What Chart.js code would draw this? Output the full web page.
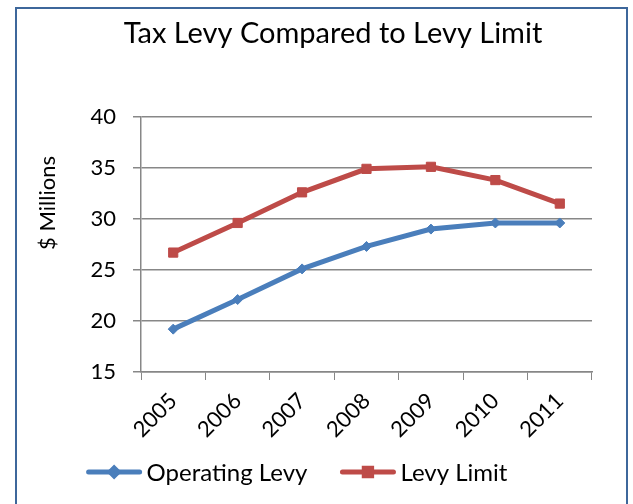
<!DOCTYPE html>
<html>
<head>
<meta charset="utf-8">
<title>Tax Levy Compared to Levy Limit</title>
<script src="https://cdn.jsdelivr.net/npm/chart.js@4"></script>
<style>
  html, body { margin: 0; padding: 0; background: #fff; }
  body { width: 633px; height: 504px; overflow: hidden; position: relative; }
  .frame { position: absolute; left: 15px; top: 7px; width: 609px; height: 520px; border: 2px solid #3d679b; }
  .wrap { position: absolute; left: 0; top: 0; width: 633px; height: 504px; }
</style>
</head>
<body>
<div class="frame"></div>
<div class="wrap"><canvas id="levyChart"></canvas></div>
<script>
// Data
const years = ['2005', '2006', '2007', '2008', '2009', '2010', '2011'];
const operatingLevy = [19.2, 22.1, 25.1, 27.3, 29.0, 29.6, 29.6];
const levyLimit = [26.7, 29.6, 32.6, 34.9, 35.1, 33.8, 31.5];
const yMin = 15;
const yMax = 40;
const yStep = 5;

const chartTitle = 'Tax Levy Compared to Levy Limit';
const yTitle = '$ Millions';
const fontName = 'Lato';
const gridColor = '#878787';

// Plugin die de y-as titel en de legenda tekent
const extraText = {
    id: 'extraText',
    afterDraw(chart) {
        const c = chart.ctx;

        // y-as titel
        c.save();
        c.font = '22px ' + fontName;
        c.fillStyle = '#000';
        c.textAlign = 'center';
        c.textBaseline = 'middle';
        c.translate(48, 203);
        c.rotate(-Math.PI / 2);
        c.fillText(yTitle, 0, 0);
        c.restore();

        // legenda
        c.save();
        c.font = '24px ' + fontName;
        const sample = 55;
        const gap = 5;
        const spacing = 33;
        const sets = chart.data.datasets;
        let total = 0;
        sets.forEach(ds => { total += sample + gap + c.measureText(ds.label).width; });
        total += spacing * (sets.length - 1);
        let x = 297 - total / 2;
        const y = 472;
        sets.forEach(ds => {
            c.strokeStyle = ds.borderColor;
            c.fillStyle = ds.borderColor;
            c.lineWidth = 5;
            c.lineCap = 'round';
            c.beginPath();
            c.moveTo(x + 2, y);
            c.lineTo(x + sample - 2, y);
            c.stroke();
            Chart.helpers.drawPoint(c, {
                pointStyle: ds.pointStyle,
                radius: ds.pointRadius * 0.8,
                rotation: 0,
                borderWidth: 1
            }, x + sample / 2, y);
            c.fillStyle = '#000';
            c.textAlign = 'left';
            c.textBaseline = 'middle';
            c.fillText(ds.label, x + sample + gap, y + 1);
            x += sample + gap + c.measureText(ds.label).width + spacing;
        });
        c.restore();
    }
};

const ctx = document.getElementById('levyChart');

new Chart(ctx, {
    type: 'line',
    data: {
        labels: years,
        datasets: [{
            label: 'Operating Levy',
            data: operatingLevy,
            borderColor: '#4a7ebb',
            backgroundColor: '#4a7ebb',
            borderWidth: 5,
            pointStyle: 'rectRot',
            pointRadius: 5,
            pointBorderWidth: 1,
            tension: 0
        },
        {
            label: 'Levy Limit',
            data: levyLimit,
            borderColor: '#be4b48',
            backgroundColor: '#be4b48',
            borderWidth: 5,
            pointStyle: 'rect',
            pointRadius: 6.5,
            pointBorderWidth: 1,
            tension: 0
        }]
    },
    options: {
        responsive: true,
        maintainAspectRatio: false,
        animation: false,
        layout: {
            padding: { left: 74, right: 41, top: 0, bottom: 62 }
        },
        plugins: {
            legend: { display: false },
            tooltip: { enabled: false },
            title: {
                display: true,
                text: chartTitle,
                color: '#000',
                font: { family: fontName, size: 29, weight: 'normal', lineHeight: 1.2 },
                padding: { top: 16, bottom: 66 }
            }
        },
        scales: {
            x: {
                offset: true,
                grid: {
                    offset: true,
                    drawOnChartArea: false,
                    drawTicks: true,
                    tickLength: 8,
                    color: gridColor
                },
                border: { color: gridColor, width: 1.5 },
                ticks: {
                    color: '#000',
                    font: { family: fontName, size: 22 },
                    minRotation: 45,
                    maxRotation: 45,
                    padding: 8
                },
                afterFit(scale) { scale.height = 70; }
            },
            y: {
                min: yMin,
                max: yMax,
                grid: {
                    color: gridColor,
                    tickLength: 8,
                    lineWidth: 1.5
                },
                border: { color: gridColor, width: 1.5 },
                ticks: {
                    stepSize: yStep,
                    color: '#000',
                    font: { family: fontName, size: 22 },
                    padding: 17
                },
                afterFit(scale) { scale.width = 67; }
            }
        }
    },
    plugins: [extraText]
});
</script>
</body>
</html>
